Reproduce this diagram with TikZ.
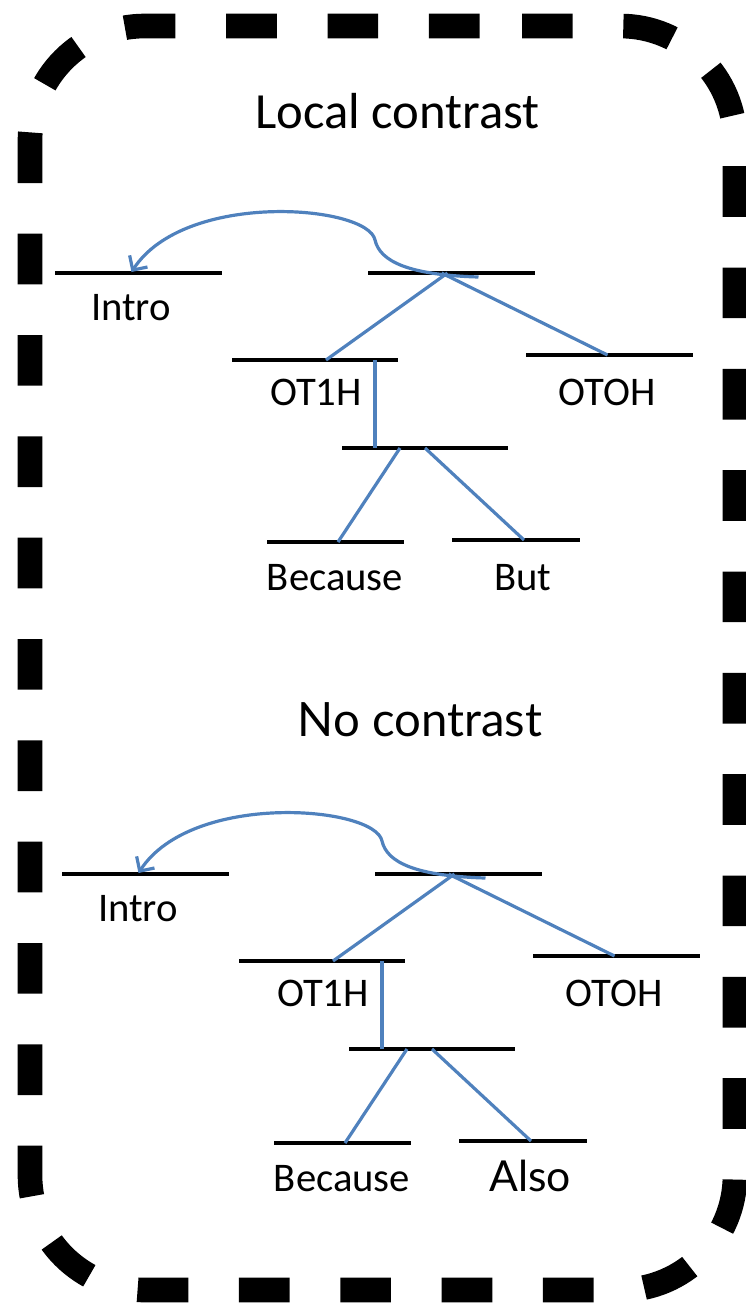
\documentclass[tikz,border=0pt]{standalone}
\usepackage{fontspec}
\usepackage{tikz}
\usetikzlibrary{positioning}
\usetikzlibrary{calc}
\usetikzlibrary{arrows.meta}

\newfontfamily\calfont{Carlito}
\newfontfamily\gillfont{Lato}
\definecolor{linkblue}{RGB}{79,129,189}

\tikzset{
  bar/.style={fill=black, inner sep=0pt, minimum height=3.6pt, minimum width=125pt},
  lbl/.style={anchor=base, inner sep=0pt, font=\calfont\fontsize{30.5}{30.5}\selectfont},
  link/.style={draw=linkblue, line width=2.4pt},
  border/.style={line width=18.5pt, dash pattern=on 38pt off 38pt, dash phase=57pt, rounded corners=86pt}
}

\begin{document}
\begin{tikzpicture}[x=0.75pt, y=-0.75pt]
  \useasboundingbox (0,0) rectangle (746,1304);

  % Marco
  \draw[border] (382,26) -- (735,26) -- (735,1290) -- (30,1290) -- (30,26) -- cycle;

  % Titulos
  \node[anchor=base, font=\calfont\fontsize{38}{38}\selectfont] (title-a) at (397.5,128) {Local contrast};
  \node[anchor=base, font=\gillfont\fontsize{35.5}{35.5}\selectfont] (title-b) at (420,736) {No contrast};

  \foreach \t/\dx/\dy/\last in {a/0/0/{But}, b/7/601/{\gillfont\fontsize{32}{32}\selectfont Also}}{
    \begin{scope}[shift={(\dx,\dy)}]
      % Nodos
      \node[bar] (\t-intro) at (138.5,273) {};
      \node[bar] (\t-root) at (451.5,273) {};
      \node[bar] (\t-ot1h) at (315,360) {};
      \node[bar] (\t-otoh) at (609.5,355) {};
      \node[bar] (\t-mid) at (425,448) {};
      \node[bar, minimum width=103pt] (\t-because) at (335.5,542) {};
      \node[bar, minimum width=96pt] (\t-last) at (516,540) {};

      \node[lbl] (\t-lintro) at (131,320) {Intro};
      \node[lbl] (\t-lot1h) at (316,405) {OT1H};
      \node[lbl] (\t-lotoh) at (607,405) {OTOH};
      \node[lbl] (\t-lbecause) at (335,590) {Because};
      \node[lbl] (\t-llast) at (523,590) {\last};

      % Aristas
      \draw[link] ($(\t-root)+(-4,0)$) -- ($(\t-ot1h)+(11,0)$);
      \draw[link] ($(\t-root)+(-10,0)$) -- ($(\t-otoh)+(-2,0)$);
      \draw[link] ($(\t-ot1h)+(60,0)$) -- ($(\t-mid)+(-50,0)$);
      \draw[link] ($(\t-mid)+(-25,0)$) -- ($(\t-because)+(2.5,0)$);
      \draw[link] (\t-mid.center) -- ($(\t-last)+(8,0)$);
      \draw[link, -{Straight Barb[length=8pt, width=16pt]}] ($(\t-root)+(27,4)$)
        .. controls (410,275) and (380,262) .. (375,240)
        .. controls (368,205) and (185,190) .. ($(\t-intro)+(-7,-1)$);
    \end{scope}
  }
\end{tikzpicture}
\end{document}
